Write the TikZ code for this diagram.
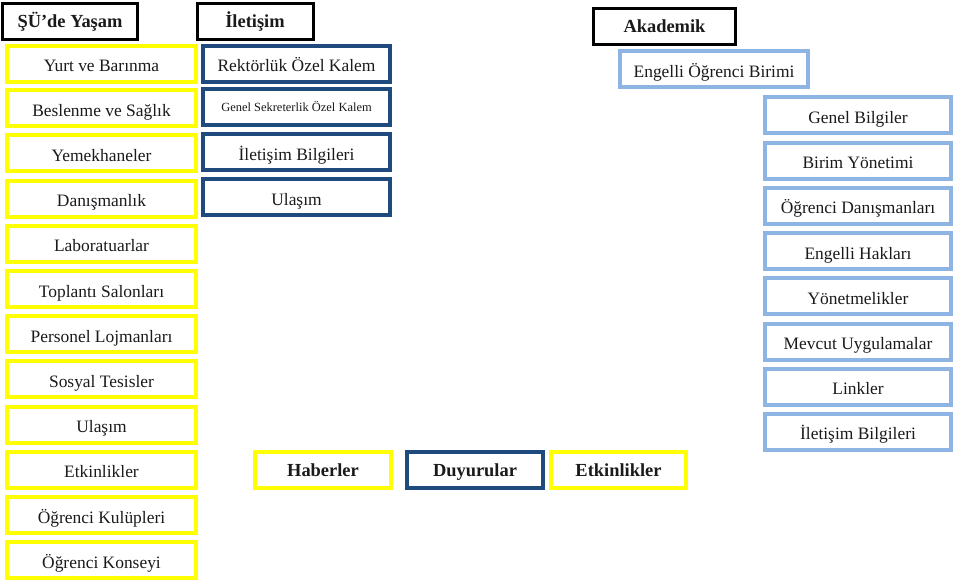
\documentclass[tikz,border=0pt]{standalone}
\usepackage{fontspec}
\setmainfont{Liberation Serif}
\definecolor{yel}{HTML}{FFFF00}
\definecolor{dblue}{HTML}{1F4A7E}
\definecolor{lblue}{HTML}{8EB4E3}
\definecolor{txt}{HTML}{1A1A1A}
\begin{document}
\begin{tikzpicture}[x=1bp,y=-1bp,
  base/.style={rectangle,inner sep=0pt,text=txt,font=\fontsize{17.5}{19}\selectfont,text height=16bp,text depth=0bp},
  ybox/.style={base,draw=yel,line width=4bp,minimum width=189bp,minimum height=36bp},
  dbox/.style={base,draw=dblue,line width=4bp,minimum width=187bp,minimum height=36bp},
  lbox/.style={base,draw=lblue,line width=4bp,minimum width=186bp,minimum height=36bp},
  hbox/.style={base,draw=black,line width=3bp,minimum height=36bp,font=\fontsize{18.5}{20}\selectfont\bfseries,text height=12bp},
  bbox/.style={base,line width=4bp,minimum width=136bp,minimum height=36bp,font=\fontsize{18.5}{20}\selectfont\bfseries,text height=13bp}]
\useasboundingbox (0,0) rectangle (960,580);
% headers
\node[hbox,minimum width=135bp] (h1) at (70,22) {ŞÜ’de Yaşam};
\node[hbox,minimum width=116bp] (h2) at (255,22) {İletişim};
\node[hbox,minimum width=142bp] (h3) at (664.5,26.5) {Akademik};
% left column
\node[ybox] (l1) at (101.5,64) {Yurt ve Barınma};
\node[ybox] (l2) at (101.5,108.2) {Beslenme ve Sağlık};
\node[ybox] (l3) at (101.5,153.4) {Yemekhaneler};
\node[ybox] (l4) at (101.5,198.6) {Danışmanlık};
\node[ybox] (l5) at (101.5,243.8) {Laboratuarlar};
\node[ybox] (l6) at (101.5,289) {Toplantı Salonları};
\node[ybox] (l7) at (101.5,334.2) {Personel Lojmanları};
\node[ybox] (l8) at (101.5,379.4) {Sosyal Tesisler};
\node[ybox] (l9) at (101.5,424.6) {Ulaşım};
\node[ybox] (l10) at (101.5,469.8) {Etkinlikler};
\node[ybox] (l11) at (101.5,515) {Öğrenci Kulüpleri};
\node[ybox] (l12) at (101.5,560) {Öğrenci Konseyi};
% middle column
\node[dbox] (m1) at (296.5,64) {Rektörlük Özel Kalem};
\node[dbox,font=\fontsize{12.5}{14}\selectfont,text height=7.5bp] (m2) at (296.5,107.5) {Genel Sekreterlik Özel Kalem};
\node[dbox] (m3) at (296.5,152.5) {İletişim Bilgileri};
\node[dbox] (m4) at (296.5,197.3) {Ulaşım};
% academic
\node[lbox,minimum width=188bp] (a0) at (714,69.5) {Engelli Öğrenci Birimi};
\node[lbox] (r1) at (858,115.5) {Genel Bilgiler};
\node[lbox] (r2) at (858,160.7) {Birim Yönetimi};
\node[lbox] (r3) at (858,205.9) {Öğrenci Danışmanları};
\node[lbox] (r4) at (858,251.1) {Engelli Hakları};
\node[lbox] (r5) at (858,296.3) {Yönetmelikler};
\node[lbox] (r6) at (858,341.5) {Mevcut Uygulamalar};
\node[lbox] (r7) at (858,386.7) {Linkler};
\node[lbox] (r8) at (858,431.9) {İletişim Bilgileri};
% bottom
\node[bbox,draw=yel] (b1) at (323,470) {Haberler};
\node[bbox,draw=dblue] (b2) at (475,470) {Duyurular};
\node[bbox,draw=yel,minimum width=135bp] (b3) at (618.5,470) {Etkinlikler};
\end{tikzpicture}
\end{document}
